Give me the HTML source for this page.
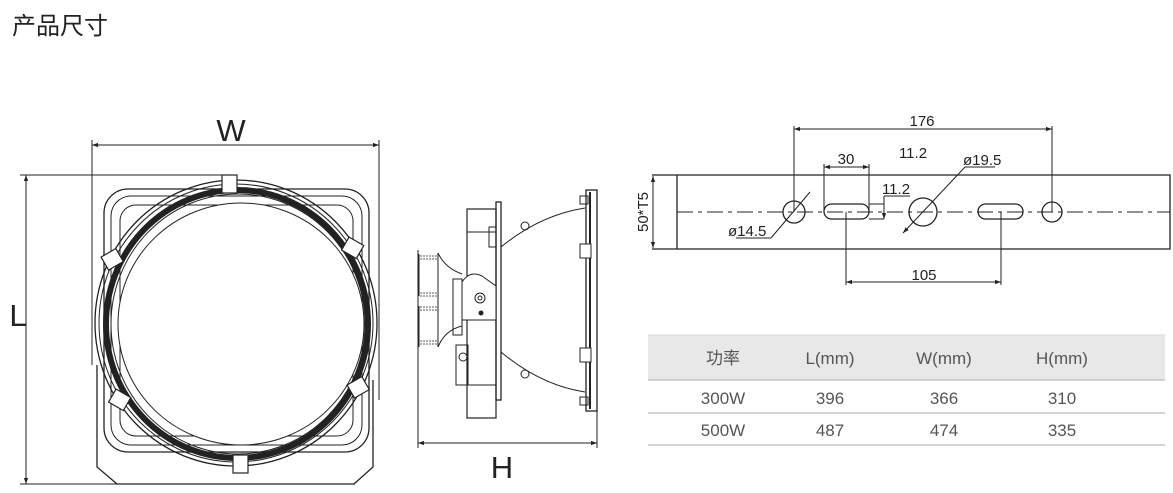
<!DOCTYPE html>
<html><head><meta charset="utf-8">
<style>
html,body{margin:0;padding:0;background:#fff;}
body{width:1173px;height:493px;overflow:hidden;position:relative;font-family:"Liberation Sans","Noto Sans CJK SC",sans-serif;}
.t{position:absolute;left:12px;top:6px;font-size:24px;color:#222;font-family:"Liberation Sans","Noto Sans CJK SC",sans-serif;}
svg{position:absolute;left:0;top:0;}
</style></head><body>
<div class="t">产品尺寸</div>
<svg width="1173" height="493" viewBox="0 0 1173 493" xmlns="http://www.w3.org/2000/svg">
<defs>
<marker id="a" viewBox="0 0 10 10" refX="10" refY="5" markerWidth="8" markerHeight="6" orient="auto-start-reverse"><path d="M0,1.5 L10,5 L0,8.5 z" fill="#222"/></marker>
</defs>
<g stroke="#222" fill="none" stroke-width="1">
<line x1="92" y1="145" x2="379" y2="145" marker-start="url(#a)" marker-end="url(#a)"/>
<line x1="92" y1="140" x2="92" y2="365"/>
<line x1="379" y1="140" x2="379" y2="400"/>
<line x1="26" y1="175" x2="26" y2="484" marker-start="url(#a)" marker-end="url(#a)"/>
<line x1="20" y1="175" x2="237" y2="175"/>
<line x1="20" y1="484" x2="355" y2="484"/>
<path d="M97,365 L97,467 L117,484 L354,484 L373,467 L373,380" stroke-width="1.3"/>
<rect x="104" y="189" width="265" height="263" rx="24" stroke-width="1.3"/>
<rect x="111" y="196" width="251" height="249" rx="20"/>
<rect x="120" y="205" width="233" height="231" rx="16"/>
<ellipse cx="236" cy="323" rx="141" ry="143" stroke-width="1.3"/>
<ellipse cx="236" cy="323" rx="137" ry="139"/>
<ellipse cx="237" cy="324" rx="131" ry="134" stroke="#222" stroke-width="6"/>
<ellipse cx="238" cy="324" rx="127" ry="130"/>
<ellipse cx="241" cy="324" rx="123" ry="121" fill="#fff"/>
<g fill="#fff" stroke-width="1.2">
<rect x="222" y="175" width="15" height="18"/>
<rect x="233" y="455" width="15" height="18"/>
<rect x="104" y="252" width="17" height="15" transform="rotate(-30 112 260)"/>
<rect x="344" y="240" width="17" height="15" transform="rotate(30 352 248)"/>
<rect x="111" y="392" width="17" height="15" transform="rotate(30 119 400)"/>
<rect x="350" y="380" width="17" height="15" transform="rotate(-30 358 388)"/>
</g>
<line x1="418" y1="443" x2="597" y2="443" marker-start="url(#a)" marker-end="url(#a)"/>
<line x1="418" y1="250" x2="418" y2="448"/>
<line x1="597" y1="400" x2="597" y2="448"/>
<rect x="496" y="202" width="5" height="198" stroke-width="1.3"/>
<rect x="467" y="209" width="29" height="209" stroke-width="1.2"/>
<line x1="467" y1="232" x2="496" y2="232"/><line x1="467" y1="320" x2="496" y2="320"/><line x1="467" y1="385" x2="496" y2="385"/>
<rect x="489" y="227" width="7" height="20"/>
<path d="M462,320 L462,282 Q470,270 482,276 L496,286 L496,320 Z" fill="#fff"/>
<circle cx="480" cy="298" r="5"/><circle cx="480" cy="298" r="2"/>
<circle cx="481" cy="313" r="2" fill="#222"/>
<rect x="453" y="279" width="9" height="56"/>
<path d="M438,253 Q445,268 462,274 M438,347 Q445,330 462,326"/>
<line x1="438" y1="253" x2="438" y2="347"/>
<path d="M419,254 V296 M419,306 V347" stroke-width="1"/>
<path d="M420,256 h17 M420,259 h17 M420,293 h17 M420,296 h17 M420,307 h17 M420,310 h17 M420,344 h17 M420,341 h17" stroke-width="0.8" stroke-dasharray="2,1"/>
<rect x="456" y="345" width="12" height="40"/><circle cx="463" cy="357" r="4"/>
<path d="M501,247 Q540,215 585,208 M501,352 Q540,385 585,392"/>
<rect x="586" y="190" width="11" height="221" stroke-width="1.3"/>
<line x1="590" y1="192" x2="590" y2="409" stroke-width="2"/>
<rect x="580" y="244" width="11" height="14" fill="#fff"/><rect x="580" y="348" width="11" height="14" fill="#fff"/>
<rect x="580" y="196" width="8" height="8"/><rect x="580" y="397" width="8" height="8"/>
<circle cx="525" cy="226" r="4"/><circle cx="525" cy="374" r="4"/>
<path d="M652,175 H1170 V249 H652" stroke-width="1.3"/>
<line x1="677" y1="175" x2="677" y2="249" stroke-width="1.3"/>
<line x1="653" y1="176" x2="653" y2="248" marker-start="url(#a)" marker-end="url(#a)"/>
<line x1="677" y1="212" x2="1170" y2="212" stroke-dasharray="16,5,4,5"/>
<circle cx="794" cy="212" r="11" stroke-width="1.3"/>
<rect x="824" y="204" width="45" height="15" rx="7.5" stroke-width="1.3"/>
<circle cx="923" cy="212" r="14" stroke-width="1.3"/>
<rect x="978" y="204" width="45" height="15" rx="7.5" stroke-width="1.3"/>
<circle cx="1052" cy="212" r="10" stroke-width="1.3"/>
<line x1="794" y1="129" x2="1052" y2="129" marker-start="url(#a)" marker-end="url(#a)"/>
<line x1="794" y1="126" x2="794" y2="212"/><line x1="1052" y1="126" x2="1052" y2="212"/>
<line x1="824" y1="167" x2="869" y2="167" marker-start="url(#a)" marker-end="url(#a)"/>
<line x1="824" y1="164" x2="824" y2="212"/><line x1="869" y1="164" x2="869" y2="212"/>
<path d="M869,219 H884 M869,204 H884"/>
<line x1="884" y1="196" x2="884" y2="219" marker-end="url(#a)"/>
<line x1="884" y1="196" x2="910" y2="196"/>
<line x1="965" y1="167" x2="995" y2="167"/>
<line x1="965" y1="167" x2="903" y2="233" marker-end="url(#a)"/>
<line x1="736" y1="238" x2="771" y2="238"/>
<line x1="771" y1="238" x2="810" y2="192"/>
<line x1="846" y1="212" x2="846" y2="285"/><line x1="1001" y1="212" x2="1001" y2="285"/>
<line x1="846" y1="282" x2="1001" y2="282" marker-start="url(#a)" marker-end="url(#a)"/>
</g>
<g font-family="Liberation Sans, sans-serif" fill="#222">
<text x="231" y="141" font-size="31" text-anchor="middle">W</text>
<text x="18" y="326" font-size="31" text-anchor="middle">L</text>
<text x="502" y="478" font-size="31" text-anchor="middle">H</text>
<g font-size="15">
<text x="922" y="126" text-anchor="middle">176</text>
<text x="846" y="164" text-anchor="middle">30</text>
<text x="913" y="158" text-anchor="middle">11.2</text>
<text x="896" y="194" text-anchor="middle">11.2</text>
<text x="963" y="165">ø19.5</text>
<text x="728" y="236">ø14.5</text>
<text x="924" y="280" text-anchor="middle">105</text>
<text transform="translate(648,212) rotate(-90)" text-anchor="middle">50*T5</text>
</g>
</g>
<rect x="648" y="335" width="517" height="45" fill="#e8e8e8"/>
<g stroke="#bbb" stroke-width="1.2"><line x1="648" y1="380" x2="1165" y2="380"/><line x1="648" y1="413" x2="1165" y2="413"/><line x1="648" y1="445" x2="1165" y2="445"/><line x1="648" y1="335" x2="1165" y2="335" stroke="#ddd"/></g>
<g font-family="Liberation Sans, Noto Sans CJK SC, sans-serif" font-size="17" fill="#555" text-anchor="middle">
<text x="723" y="364">功率</text><text x="830" y="364">L(mm)</text><text x="944" y="364">W(mm)</text><text x="1062" y="364">H(mm)</text>
<text x="723" y="404">300W</text><text x="830" y="404">396</text><text x="944" y="404">366</text><text x="1062" y="404">310</text>
<text x="723" y="436">500W</text><text x="830" y="436">487</text><text x="944" y="436">474</text><text x="1062" y="436">335</text>
</g>
</svg>
</body></html>
